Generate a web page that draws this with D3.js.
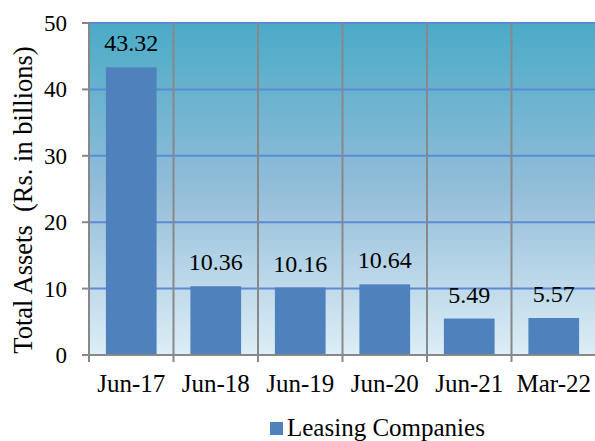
<!DOCTYPE html>
<html><head><meta charset="utf-8">
<script src="https://cdn.jsdelivr.net/npm/d3@7"></script>
<style>body{margin:0;background:#fff}svg{display:block}text{font-family:"Liberation Serif","Times New Roman",serif;fill:#000}</style>
</head><body><svg id="c" width="595" height="441"></svg>
<script>
const categories = ["Jun-17","Jun-18","Jun-19","Jun-20","Jun-21","Mar-22"];
const values = [43.32,10.36,10.16,10.64,5.49,5.57];
const labels = ["43.32","10.36","10.16","10.64","5.49","5.57"];
const yTicks = [0,10,20,30,40,50];
const seriesName = "Leasing Companies";

const svg = d3.select("#c");
const L=89, R=596, T=23, B=355;
const x = d3.scaleBand().domain(categories).range([L,R]).paddingInner(0.4).paddingOuter(0.2);
const xb = d3.scaleBand().domain(categories).range([L,R]);
const y = d3.scaleLinear().domain([0,50]).range([B,T]);

const defs = svg.append("defs");
const g = defs.append("linearGradient").attr("id","bg").attr("x1",0).attr("y1",0).attr("x2",0).attr("y2",1);
g.append("stop").attr("offset","0%").attr("stop-color","#4aabc7");
g.append("stop").attr("offset","50%").attr("stop-color","#93bdd9");
g.append("stop").attr("offset","100%").attr("stop-color","#ddeef6");
svg.append("rect").attr("x",L).attr("y",T).attr("width",R-L).attr("height",B-T).attr("fill","url(#bg)");

svg.selectAll(".hg").data(yTicks.filter(d=>d>0)).join("line")
  .attr("x1",L).attr("x2",R).attr("y1",d=>y(d)).attr("y2",d=>y(d))
  .attr("stroke","#5b8ad6").attr("stroke-width",2);
svg.selectAll(".vg").data(categories.slice(1)).join("line")
  .attr("x1",d=>xb(d)).attr("x2",d=>xb(d)).attr("y1",T).attr("y2",B+7)
  .attr("stroke","#888").attr("stroke-width",2);

svg.selectAll(".bar").data(values).join("rect")
  .attr("x",(d,i)=>x(categories[i])).attr("width",x.bandwidth())
  .attr("y",d=>y(d)).attr("height",d=>B-y(d)).attr("fill","#4f81bd");
svg.selectAll(".lbl").data(values).join("text")
  .attr("x",(d,i)=>x(categories[i])+x.bandwidth()/2).attr("y",d=>y(d)-16)
  .attr("text-anchor","middle").attr("font-size",24).text((d,i)=>labels[i]);

svg.append("line").attr("x1",L).attr("x2",L).attr("y1",T).attr("y2",B+7).attr("stroke","#888").attr("stroke-width",2);
svg.append("line").attr("x1",L-7).attr("x2",R).attr("y1",B).attr("y2",B).attr("stroke","#888").attr("stroke-width",2);
svg.selectAll(".yt").data(yTicks).join("line")
  .attr("x1",L-7).attr("x2",L).attr("y1",d=>y(d)).attr("y2",d=>y(d)).attr("stroke","#888").attr("stroke-width",2);
svg.selectAll(".ytl").data(yTicks).join("text")
  .attr("x",67).attr("y",d=>y(d)+8).attr("text-anchor","end").attr("font-size",23).text(d=>d);
svg.selectAll(".xtl").data(categories).join("text")
  .attr("x",d=>xb(d)+xb.bandwidth()/2).attr("y",392).attr("text-anchor","middle").attr("font-size",25).text(d=>d);

svg.append("text").attr("transform","translate(32,200) rotate(-90)").attr("text-anchor","middle")
  .attr("font-size",26.5).attr("xml:space","preserve").text("Total Assets  (Rs. in billions)");

svg.append("rect").attr("x",270).attr("y",422).attr("width",13).attr("height",13).attr("fill","#4f81bd");
svg.append("text").attr("x",287).attr("y",436).attr("font-size",25).text(seriesName);
</script></body></html>
